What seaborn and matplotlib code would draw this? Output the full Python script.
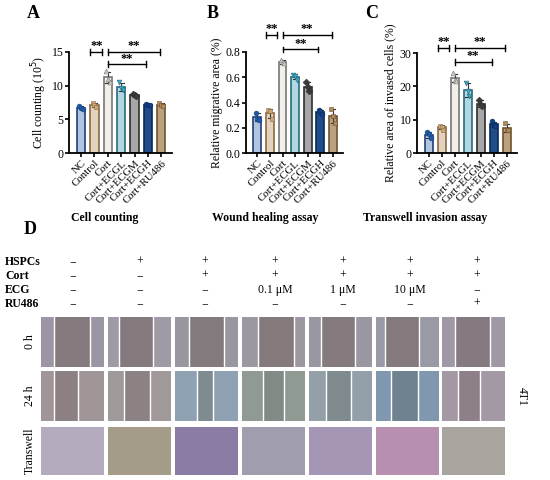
import pandas as pd
import matplotlib.pyplot as plt
import seaborn as sns
from matplotlib.patches import Rectangle

# groups and triplicate values
groups = ["NC", "Control", "Cort", "Cort+ECGL", "Cort+ECGM", "Cort+ECGH", "Cort+RU486"]

cell_counting = [[7.0, 6.7, 6.5], [7.4, 7.1, 6.9], [12.2, 11.0, 10.6], [10.5, 9.6, 9.3],
                 [8.8, 8.6, 8.4], [7.3, 7.2, 7.1], [7.4, 7.2, 7.0]]
wound_healing = [[0.32, 0.27, 0.26], [0.34, 0.33, 0.27], [0.74, 0.72, 0.71], [0.62, 0.61, 0.58],
                 [0.56, 0.52, 0.49], [0.34, 0.33, 0.31], [0.35, 0.29, 0.24]]
transwell = [[6.2, 5.8, 4.5], [8.2, 7.8, 7.0], [24.0, 22.0, 21.5], [21.0, 18.5, 17.0],
             [16.0, 14.5, 14.0], [9.5, 8.5, 8.0], [9.0, 7.0, 6.8]]

bar_fill = ["#a9c4e8", "#e9d4b6", "#f3f0e8", "#a9dde8", "#a7a7a9", "#0e4a9c", "#c6a272"]
bar_edge = ["#1f3f7a", "#8b6a45", "#777777", "#2a6a80", "#2e2e2e", "#0a2a5a", "#6e5330"]
point_col = ["#1a5ca8", "#c9a57a", "#cfcac0", "#3ea6c4", "#3a3a3a", "#10408a", "#b08a58"]
point_mark = ["o", "s", "^", "v", "D", "o", "s"]

# condition table
table_rows = ["HSPCs", "Cort", "ECG", "RU486"]
table_vals = [["−", "+", "+", "+", "+", "+", "+"],
              ["−", "−", "+", "+", "+", "+", "+"],
              ["−", "−", "−", "0.1 μM", "1 μM", "10 μM", "−"],
              ["−", "−", "−", "−", "−", "−", "+"]]
image_rows = ["0 h", "24 h", "Transwell"]

# wound gap edges (fraction of panel width) and colours of the photos
gap_0h = [(0.2, 0.77), (0.17, 0.72), (0.23, 0.77), (0.25, 0.82), (0.19, 0.73), (0.14, 0.68), (0.2, 0.76)]
gap_24h = [(0.2, 0.58), (0.26, 0.67), (0.35, 0.6), (0.33, 0.67), (0.27, 0.66), (0.24, 0.66), (0.26, 0.6)]
cells_0h = ["#9c96a4", "#a09aa6", "#9a96a0", "#9c98a2", "#9a96a2", "#9a9aa6", "#a098a4"]
bg_0h = ["#857a7e", "#847a7e", "#837a7e", "#847a7c", "#857b7f", "#847a7e", "#857a80"]
cells_24h = ["#a09698", "#a0999a", "#8ea2b4", "#8f9a92", "#93a0aa", "#7f98b0", "#a498a4"]
bg_24h = ["#8c8082", "#8c8284", "#7e8c92", "#828a86", "#7f8a8e", "#6e8290", "#8e8088"]
tw_col = ["#b4aabd", "#a49c88", "#8a7ca4", "#a09eae", "#a696b6", "#b690ae", "#aaa49e"]

plt.rcParams['font.family'] = ['Liberation Serif', 'DejaVu Serif']
plt.rcParams['axes.linewidth'] = 1.3

W, H = 550, 480
fig = plt.figure(figsize=(5.5, 4.8), dpi=100)


def px_axes(l, t, r, b):
    return fig.add_axes([l / W, 1 - b / H, (r - l) / W, (b - t) / H])


def bracket(ax, x0, x1, y, ymax):
    dy = ymax * 0.028
    ax.plot([x0, x1], [y, y], color="k", lw=1, clip_on=False)
    for xx in (x0, x1):
        ax.plot([xx, xx], [y - dy, y + dy], color="k", lw=1, clip_on=False)
    ax.text((x0 + x1) / 2, y + ymax * 0.055, "**", ha="center", va="center",
            fontsize=9, fontweight="bold", clip_on=False)


def bar_panel(ax, values, ymax, step, ylabel, tops):
    rows = []
    offs = [-0.14, 0.0, 0.14]
    for i, g in enumerate(groups):
        for j, v in enumerate(values[i]):
            rows.append({"group": g, "pos": i + offs[j], "val": v})
    df = pd.DataFrame(rows)
    sns.barplot(data=df, x="group", y="val", hue="group", order=groups, hue_order=groups,
                palette=bar_fill, width=0.62, errorbar="sd", capsize=0.35,
                err_kws={"color": "#333333", "linewidth": 0.8}, legend=False, ax=ax)
    for p, ec in zip(ax.patches, bar_edge):
        p.set_edgecolor(ec)
        p.set_linewidth(1.2)
    for i, g in enumerate(groups):
        sub = df[df.group == g]
        sns.scatterplot(x=sub.pos, y=sub.val, marker=point_mark[i], color=point_col[i],
                        s=12, edgecolor=bar_edge[i], linewidth=0.4, zorder=5, ax=ax, legend=False)
    ax.set_xlim(-0.9, 6.8)
    ax.set_ylim(0, ymax)
    ax.set_yticks([k * step for k in range(int(round(ymax / step)) + 1)])
    ax.set_xticks(range(len(groups)))
    ax.set_xticklabels(groups, rotation=45, ha="right", rotation_mode="anchor", fontsize=7.8)
    ax.tick_params(axis="y", labelsize=8.5, width=1.2, length=3, pad=1)
    ax.tick_params(axis="x", width=1.2, length=3, pad=1)
    ax.set_xlabel("")
    ax.set_ylabel(ylabel, fontsize=8.5, labelpad=2)
    sns.despine(ax=ax)
    bracket(ax, 0.7, 1.6, tops[0], ymax)
    bracket(ax, 2.0, 5.9, tops[0], ymax)
    bracket(ax, 2.0, 4.85, tops[1], ymax)


axA = px_axes(69, 52, 172, 153)
bar_panel(axA, cell_counting, 15, 5, "Cell counting (10$^5$)", (15.0, 13.2))
axB = px_axes(246, 52, 343, 153)
bar_panel(axB, wound_healing, 0.8, 0.2, "Relative migrative area (%)", (0.935, 0.82))
axB.set_yticklabels(["0.0", "0.2", "0.4", "0.6", "0.8"])
axC = px_axes(417, 53, 517, 153)
bar_panel(axC, transwell, 30, 10, "Relative area of invased cells (%)", (31.5, 27.3))

# overlay in pixel coordinates for titles, table and photo panels
ov = fig.add_axes([0, 0, 1, 1], zorder=-1)
ov.set_xlim(0, W)
ov.set_ylim(H, 0)
ov.axis("off")

for lab, x, y in [("A", 33, 14), ("B", 213, 14), ("C", 372, 14), ("D", 30, 230)]:
    ov.text(x, y, lab, fontsize=13, fontweight="bold", ha="center", va="center")
for lab, x in [("Cell counting", 105), ("Wound healing assay", 265), ("Transwell invasion assay", 425)]:
    ov.text(x, 218, lab, fontsize=8.5, fontweight="bold", ha="center", va="center")

col_x = [73, 140, 205, 275, 343, 410, 477]
row_y = [262, 276, 290, 304]
for r, lab in enumerate(table_rows):
    ov.text(5, row_y[r], lab, fontsize=8.5, fontweight="bold", ha="left", va="center")
    for c, v in enumerate(table_vals[r]):
        ov.text(col_x[c], row_y[r], v, fontsize=8.5, ha="center", va="center")

col_left = [41, 108, 175, 242, 309, 376, 442]
col_w = 63
row_top = [317, 371, 427]
row_h = [50, 50, 48]

for c in range(7):
    x0 = col_left[c]
    for r, (gaps, cells, bg) in enumerate([(gap_0h, cells_0h, bg_0h), (gap_24h, cells_24h, bg_24h)]):
        y0 = row_top[r]
        g0, g1 = gaps[c]
        ov.add_patch(Rectangle((x0, y0), col_w, row_h[r], color=cells[c], lw=0))
        ov.add_patch(Rectangle((x0 + g0 * col_w, y0), (g1 - g0) * col_w, row_h[r], color=bg[c], lw=0))
        for g in (g0, g1):
            ov.plot([x0 + g * col_w] * 2, [y0, y0 + row_h[r]], color="white", lw=1)
    ov.add_patch(Rectangle((x0, row_top[2]), col_w, row_h[2], color=tw_col[c], lw=0))

for r, lab in enumerate(image_rows):
    ov.text(30, row_top[r] + row_h[r] / 2, lab, fontsize=8.5, rotation=90, ha="center", va="center")
ov.text(522, 396, "4T1", fontsize=8.5, rotation=270, ha="center", va="center")

fig.savefig("out.png", dpi=100)
